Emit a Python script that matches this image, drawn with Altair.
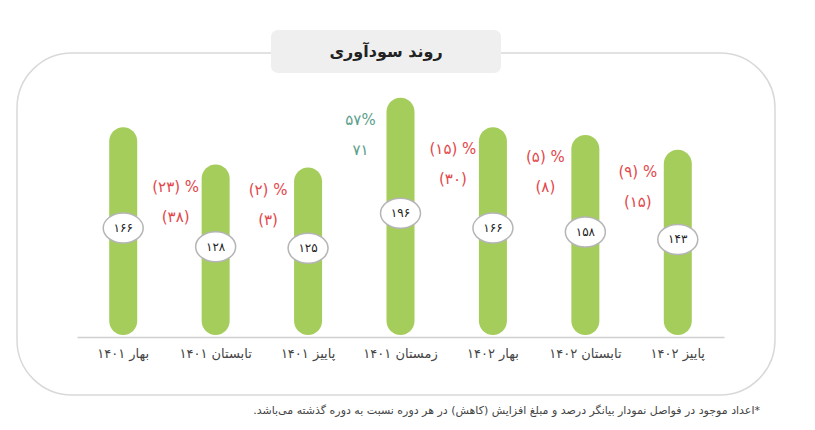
import altair as alt
import pandas as pd

# ---- data ----
periods = ["بهار ۱۴۰۱", "تابستان ۱۴۰۱", "پاییز ۱۴۰۱", "زمستان ۱۴۰۱",
           "بهار ۱۴۰۲", "تابستان ۱۴۰۲", "پاییز ۱۴۰۲"]
profit = [166, 128, 125, 196, 166, 158, 143]
change_pct = [None, -23, -2, 57, -15, -5, -9]
change_amt = [None, -38, -3, 71, -30, -8, -15]
title_text = ["روند سودآوری"]
footnote_text = ["\u200f*اعداد موجود در فواصل نمودار بیانگر درصد و مبلغ افزایش (کاهش) در هر دوره نسبت به دوره گذشته می\u200cباشد.\u200f"]

FA = str.maketrans("0123456789", "۰۱۲۳۴۵۶۷۸۹")
def fa(n):
    return str(n).translate(FA)

BASE = -47
FONT = "DejaVu Sans"
GREEN = "#a5cd5b"
RED = "#e2474a"
TEAL = "#5a9e8c"

bars_df = pd.DataFrame({
    "period": periods,
    "profit": profit,
    "label": [fa(v) for v in profit],
})

delta_rows = []
for i in range(1, len(periods)):
    p, a = change_pct[i], change_amt[i]
    if p >= 0:
        pct_s = fa(p) + "%"
        amt_s = fa(a)
    else:
        pct_s = "(" + fa(-p) + ") %"
        amt_s = "(" + fa(-a) + ")"
    delta_rows.append({"period": periods[i], "profit": profit[i],
                       "pct": pct_s, "amt": amt_s, "up": p >= 0})
delta_df = pd.DataFrame(delta_rows)

one = pd.DataFrame({"k": [0]})

x_enc = alt.X("period:N", sort=periods,
              scale=alt.Scale(range=[69, 716], paddingInner=0, paddingOuter=0),
              axis=alt.Axis(title=None, ticks=False, labelAngle=0, labelFontSize=13,
                            labelFont=FONT, labelColor="#444", labelPadding=10,
                            domainColor="#d0d0d0", domainWidth=1.5, zindex=1))
y_scale = alt.Scale(domain=[BASE, 287], nice=False, zero=False)

frame = alt.Chart(one).mark_rect(
    cornerRadius=55, fillOpacity=0, stroke="#d9d9d9", strokeWidth=1.5
).encode(x=alt.value(9), x2=alt.value(767), y=alt.value(45), y2=alt.value(387))

title_box = alt.Chart(one).mark_rect(
    cornerRadius=7, fill="#efeff0"
).encode(x=alt.value(263), x2=alt.value(493), y=alt.value(22), y2=alt.value(65))

title = alt.Chart(pd.DataFrame({"t": title_text})).mark_text(
    font=FONT, fontSize=16, fontWeight="bold", color="#222", align="center", baseline="middle"
).encode(x=alt.value(378), y=alt.value(44), text="t:N")

bars = alt.Chart(bars_df).mark_bar(size=28, cornerRadius=14, color=GREEN).encode(
    x=x_enc,
    y=alt.Y("profit:Q", scale=y_scale, axis=None),
    y2=alt.datum(BASE + 2),
)

b = 0.75
k = 0.5523
ell = (f"M -1,0 C -1,{-k*b} {-k},{-b} 0,{-b} C {k},{-b} 1,{-k*b} 1,0 "
       f"C 1,{k*b} {k},{b} 0,{b} C {-k},{b} -1,{k*b} -1,0 Z")

mid = alt.Chart(bars_df).transform_calculate(mid=f"(datum.profit + {BASE})/2")

ellipses = mid.mark_point(
    shape=ell, size=1600, filled=True, fill="white", stroke="#b5b5b5",
    strokeWidth=1.5, opacity=1, fillOpacity=1, strokeOpacity=1, yOffset=-4
).encode(x=alt.X("period:N", sort=periods), y=alt.Y("mid:Q", scale=y_scale, axis=None))

ell_text = mid.mark_text(
    font=FONT, fontSize=12, color="#222", baseline="middle", align="center", dy=-4
).encode(x=alt.X("period:N", sort=periods), y=alt.Y("mid:Q", scale=y_scale, axis=None),
         text="label:N")

color_enc = alt.condition("datum.up", alt.value(TEAL), alt.value(RED))

pct_text = alt.Chart(delta_df).mark_text(
    font=FONT, fontSize=15, baseline="middle", align="center", dx=-40, dy=22
).encode(x=alt.X("period:N", sort=periods), y=alt.Y("profit:Q", scale=y_scale, axis=None),
         text="pct:N", color=color_enc)

amt_text = alt.Chart(delta_df).mark_text(
    font=FONT, fontSize=15, baseline="middle", align="center", dx=-40, dy=52
).encode(x=alt.X("period:N", sort=periods), y=alt.Y("profit:Q", scale=y_scale, axis=None),
         text="amt:N", color=color_enc)

footnote = alt.Chart(pd.DataFrame({"t": footnote_text})).mark_text(
    font=FONT, fontSize=11, color="#444", align="right", baseline="middle"
).encode(x=alt.value(752), y=alt.value(403), text="t:N")

chart = alt.layer(
    frame, title_box, title, bars, ellipses, ell_text, pct_text, amt_text, footnote
).resolve_scale(y="shared").properties(
    width=799, height=329,
    autosize=alt.AutoSizeParams(type="none"),
    padding={"left": 0, "top": 0, "right": 0, "bottom": 85},
    background="white",
).configure_view(stroke=None)

chart.save("out.html", embed_options={"renderer": "svg", "actions": False})
